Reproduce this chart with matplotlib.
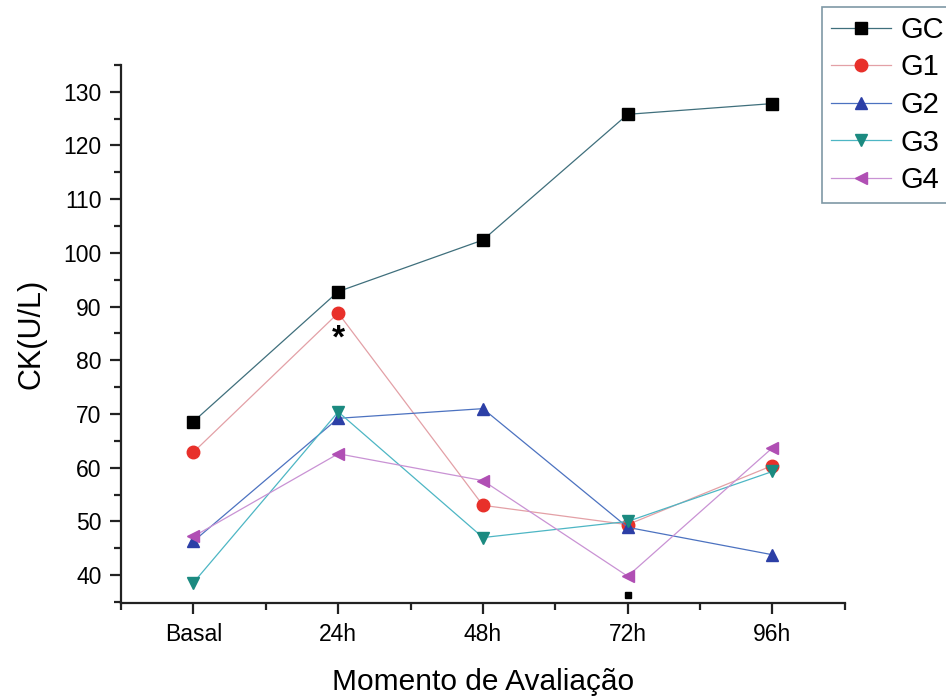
import numpy as np
import matplotlib.pyplot as plt
from matplotlib.ticker import MultipleLocator

plt.rcParams['font.family'] = ['Liberation Sans', 'DejaVu Sans']

momentos = ['Basal', '24h', '48h', '72h', '96h']
gc = [68.6, 92.8, 102.4, 125.8, 127.8]
g1 = [62.9, 88.8, 53.0, 49.4, 60.4]
g2 = [46.3, 69.2, 71.0, 48.9, 43.8]
g3 = [38.6, 70.4, 47.0, 50.0, 59.3]
g4 = [47.2, 62.6, 57.6, 39.8, 63.7]
gc_extra = 36.3   # stray GC point at 72h
asterisco_24h = 84.0

x = np.arange(len(momentos))

series = [
    ('GC', gc, 's', 'black', '#3f6f7c'),
    ('G1', g1, 'o', '#e8302a', '#e3a0a6'),
    ('G2', g2, '^', '#2c3fa6', '#4c72c0'),
    ('G3', g3, 'v', '#1b8a80', '#4db6c4'),
    ('G4', g4, '<', '#b04fb4', '#c992d4'),
]

fig = plt.figure(figsize=(9.46, 6.98), dpi=100)
ax = fig.add_axes([0.128, 0.136, 0.765, 0.771])

for name, vals, mk, mcol, lcol in series:
    ax.plot(x, vals, color=lcol, lw=0.9, marker=mk, ms=9,
            mfc=mcol, mec=mcol, label=name)

ax.plot([3], [gc_extra], 's', color='black', ms=5)
ax.text(1, asterisco_24h, '*', ha='center', va='center', fontsize=24,
        fontweight='bold')

ax.set_xlim(-0.5, 4.5)
ax.set_ylim(34.8, 135)
ax.set_xticks(x)
ax.set_xticklabels(momentos)
ax.xaxis.set_minor_locator(MultipleLocator(0.5))
ax.yaxis.set_minor_locator(MultipleLocator(5))
ax.set_yticks(np.arange(40, 131, 10))

for s in ['top', 'right']:
    ax.spines[s].set_visible(False)
for s in ['left', 'bottom']:
    ax.spines[s].set_linewidth(1.6)
    ax.spines[s].set_color('#222222')

ax.tick_params(which='major', direction='out', length=8, width=1.6,
               labelsize=16.5, pad=6, color='#222222')
ax.tick_params(which='minor', direction='out', length=5, width=1.6,
               color='#222222')

ax.set_xlabel('Momento de Avaliação', fontsize=21.5, labelpad=16)
ax.set_ylabel('CK(U/L)', fontsize=22, labelpad=12)

# legend sits outside the axes, top right, partly cut by the figure edge
leg = fig.legend(loc='upper left', bbox_to_anchor=(0.869, 0.99),
                 borderaxespad=0, fontsize=21, frameon=True, fancybox=False,
                 handlelength=2.05, borderpad=0.3, labelspacing=0.33,
                 handletextpad=0.35)
leg.get_frame().set_edgecolor('#5f7f8f')
leg.get_frame().set_linewidth(1.2)

fig.savefig('out.png', dpi=100)
